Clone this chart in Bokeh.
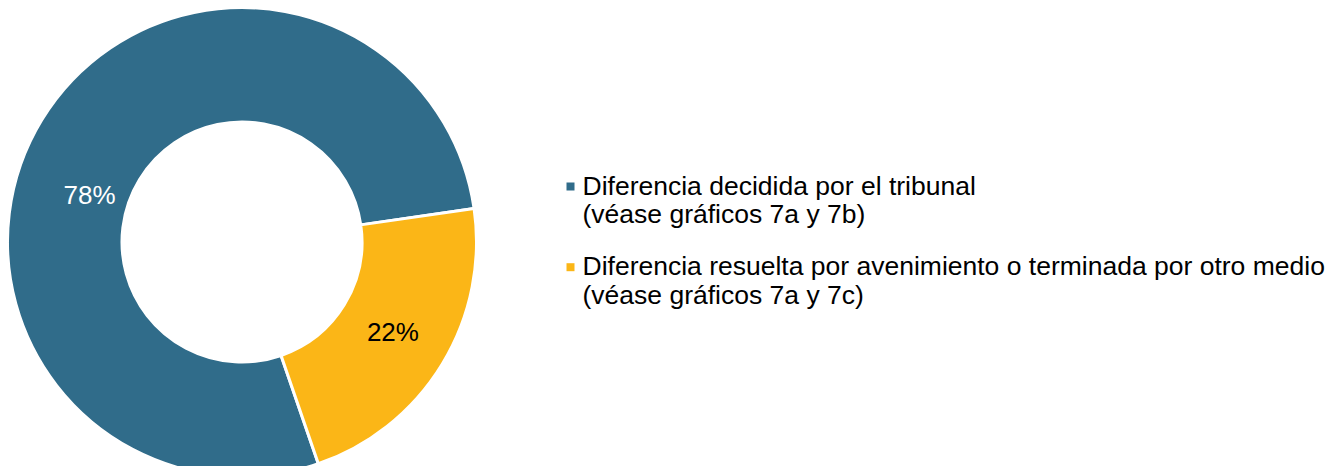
import math
from bokeh.plotting import figure
from bokeh.models import Range1d, ColumnDataSource
from bokeh.core.properties import value
from bokeh.embed import file_html
from bokeh.resources import INLINE

# ---- data ----
categories = ["Diferencia decidida por el tribunal", "Diferencia resuelta por avenimiento o terminada por otro medio"]
legend_second_lines = ["(véase gráficos 7a y 7b)", "(véase gráficos 7a y 7c)"]
shares = [78, 22]
labels = ["78%", "22%"]

# ---- style ----
colors = ["#306C8A", "#FBB617"]
label_colors = ["#FFFFFF", "#000000"]
FONT = "Liberation Sans"
W, H = 1334, 466

def fy(page_y):
    return H - page_y

def fx(page_x):
    return page_x

cx, cy = fx(241.5), fy(241.5)
r_out, r_in = 234.5, 120
first_angle = 161.0  # degrees clockwise from 12 o'clock

p = figure(width=W, height=H, output_backend="svg", toolbar_location=None,
           x_range=Range1d(0, W), y_range=Range1d(0, H),
           x_axis_type=None, y_axis_type=None, min_border=0)
p.outline_line_color = None
p.grid.visible = False
p.background_fill_color = "white"

total = sum(shares)
starts, ends, mids = [], [], []
acc = first_angle
for s in shares:
    a0 = acc
    a1 = acc + s / total * 360.0
    starts.append(math.radians(90 - a0))
    ends.append(math.radians(90 - a1))
    mids.append(math.radians(90 - (a0 + a1) / 2))
    acc = a1

src = ColumnDataSource(dict(start=starts, end=ends, color=colors))
p.annular_wedge(x=cx, y=cy, inner_radius=r_in, outer_radius=r_out,
                start_angle="start", end_angle="end", direction="clock",
                fill_color="color", line_color="white", line_width=3, source=src)

# data labels (Excel-like placement: offsets from slice midpoint)
label_angle_shift = [math.radians(14.1), math.radians(0.7)]
label_radius = [159.7, 175.5]
lx = [cx + label_radius[i] * math.cos(mids[i] + label_angle_shift[i]) for i in range(2)]
ly = [cy + label_radius[i] * math.sin(mids[i] + label_angle_shift[i]) for i in range(2)]
p.text(x=lx, y=ly, text=labels, text_color=label_colors,
       text_font=value(FONT), text_font_size="26px",
       text_align="center", text_baseline="middle")

# legend
leg_x = fx(570)
leg_y0 = 186.0
leg_gap = 80.7
for i, cat in enumerate(categories):
    yy = leg_y0 + i * leg_gap
    p.rect(x=leg_x, y=fy(yy), width=8, height=8, fill_color=colors[i], line_color=None)
    p.text(x=[fx(582)], y=[fy(yy - 1)], text=[cat], text_color="#000000",
           text_font=value(FONT), text_font_size="26.5px",
           text_align="left", text_baseline="alphabetic")
    p.text(x=[fx(582)], y=[fy(yy + 27.5)], text=[legend_second_lines[i]], text_color="#000000",
           text_font=value(FONT), text_font_size="26.5px",
           text_align="left", text_baseline="alphabetic")

open("out.html", "w").write(file_html(p, INLINE))
